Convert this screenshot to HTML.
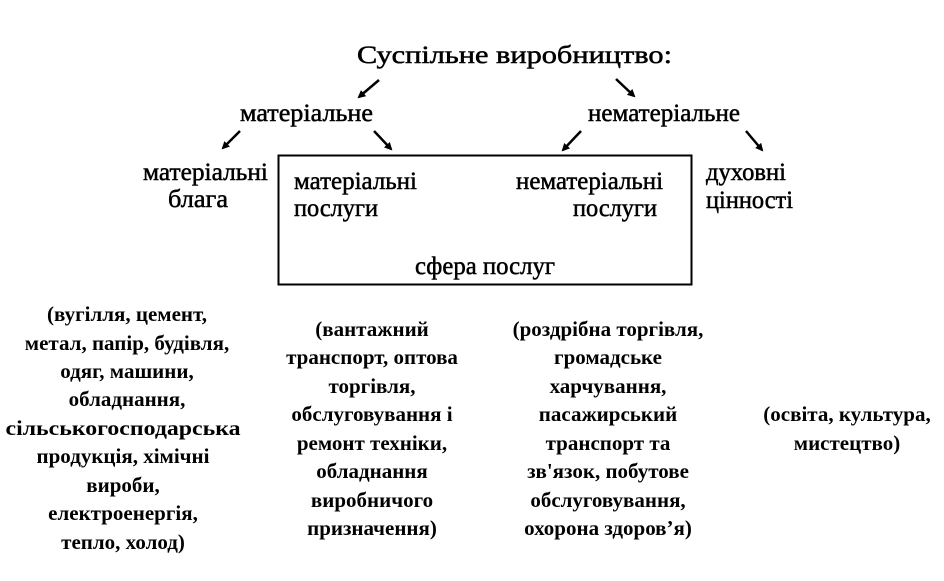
<!DOCTYPE html>
<html><head><meta charset="utf-8"><style>
html,body{margin:0;padding:0;background:#fff;}
svg{display:block;}
text{font-family:"Liberation Serif","DejaVu Serif",serif;fill:#000;}
.t{font-size:25px;stroke:#000;stroke-width:0.5;}
.b{font-size:21px;font-weight:bold;text-anchor:middle;}
</style></head><body>
<svg width="944" height="581" viewBox="0 0 944 581" xmlns="http://www.w3.org/2000/svg">
<defs><marker id="a" markerWidth="8" markerHeight="8" refX="6" refY="4" orient="auto" markerUnits="userSpaceOnUse"><path d="M0,0 L8,4 L0,8 z" fill="#000"/></marker></defs>
<g stroke="#000" stroke-width="2.5" marker-end="url(#a)">
<line x1="379" y1="80" x2="359" y2="97"/>
<line x1="616" y1="79" x2="634" y2="96"/>
<line x1="240" y1="131" x2="223" y2="148"/>
<line x1="374" y1="131" x2="391" y2="149"/>
<line x1="581" y1="131" x2="563" y2="150"/>
<line x1="746" y1="131" x2="762" y2="150"/>
</g>
<rect x="278.5" y="155.5" width="413" height="129" fill="none" stroke="#000" stroke-width="2"/>
<text class="t" x="357" y="63" textLength="315" lengthAdjust="spacingAndGlyphs">Суспільне виробництво:</text>
<text class="t" x="240" y="121" textLength="133" lengthAdjust="spacingAndGlyphs">матеріальне</text>
<text class="t" x="588" y="121" textLength="152" lengthAdjust="spacingAndGlyphs">нематеріальне</text>
<text class="t" x="143" y="180" textLength="125" lengthAdjust="spacingAndGlyphs">матеріальні</text>
<text class="t" x="168" y="207" textLength="60" lengthAdjust="spacingAndGlyphs">блага</text>
<text class="t" x="294" y="189" textLength="123" lengthAdjust="spacingAndGlyphs">матеріальні</text>
<text class="t" x="294" y="216" textLength="84" lengthAdjust="spacingAndGlyphs">послуги</text>
<text class="t" x="516" y="189" textLength="147" lengthAdjust="spacingAndGlyphs">нематеріальні</text>
<text class="t" x="573" y="216" textLength="84" lengthAdjust="spacingAndGlyphs">послуги</text>
<text class="t" x="415" y="274" textLength="140" lengthAdjust="spacingAndGlyphs">сфера послуг</text>
<text class="t" x="706" y="180" textLength="80" lengthAdjust="spacingAndGlyphs">духовні</text>
<text class="t" x="706" y="208" textLength="87" lengthAdjust="spacingAndGlyphs">цінності</text>
<g class="b">
<text x="127" y="321">(вугілля, цемент,</text>
<text x="127" y="350">метал, папір, будівля,</text>
<text x="127" y="378">одяг, машини,</text>
<text x="127" y="406">обладнання,</text>
<text x="123" y="435" textLength="235" lengthAdjust="spacingAndGlyphs">сільськогосподарська</text>
<text x="123" y="463">продукція, хімічні</text>
<text x="123" y="492">вироби,</text>
<text x="123" y="520">електроенергія,</text>
<text x="123" y="549">тепло, холод)</text>
<text x="372" y="336">(вантажний</text>
<text x="372" y="364">транспорт, оптова</text>
<text x="372" y="393">торгівля,</text>
<text x="372" y="421">обслуговування і</text>
<text x="372" y="450">ремонт техніки,</text>
<text x="372" y="478">обладнання</text>
<text x="372" y="507">виробничого</text>
<text x="372" y="535">призначення)</text>
<text x="608" y="336">(роздрібна торгівля,</text>
<text x="608" y="364">громадське</text>
<text x="608" y="393">харчування,</text>
<text x="608" y="421">пасажирський</text>
<text x="608" y="450">транспорт та</text>
<text x="608" y="478">зв'язок, побутове</text>
<text x="608" y="507">обслуговування,</text>
<text x="608" y="535">охорона здоров’я)</text>
<text x="847" y="421">(освіта, культура,</text>
<text x="847" y="450">мистецтво)</text>
</g>
</svg>
</body></html>
